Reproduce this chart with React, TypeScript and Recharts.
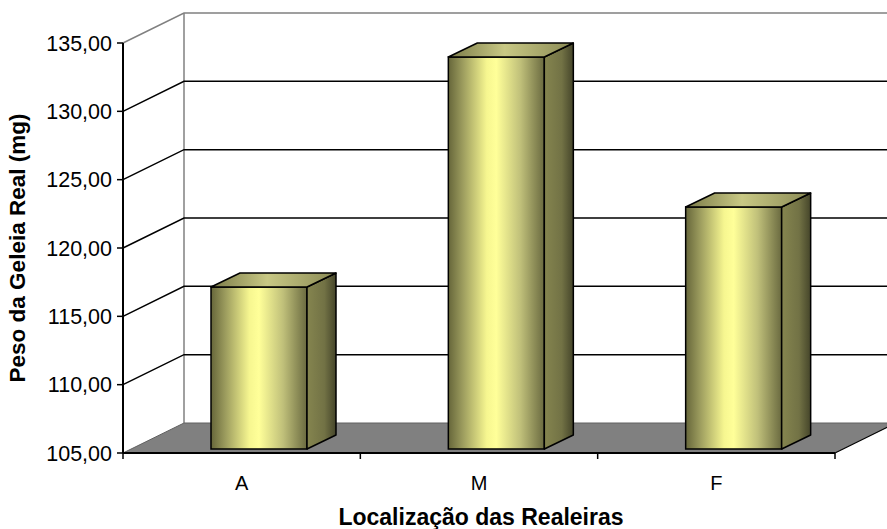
import { Bar, BarChart, CartesianGrid, XAxis, YAxis } from 'recharts';

const categories = ['A', 'M', 'F'];
const pesoGeleia = [116.85, 133.68, 122.71];
const yTicks = [105, 110, 115, 120, 125, 130, 135];

const data = categories.map((loc, i) => ({ loc, peso: pesoGeleia[i] }));

const FONT = 'Arial, "Liberation Sans", sans-serif';

// oblique offsets of the 3-D box
const WALL_DX = 61;
const WALL_DY = -30;
const BAR_DX = 29;
const BAR_DY = -14;
const BAR_SHIFT_X = 17;
const BAR_SHIFT_Y = -4;

const fmt = (v: number) => v.toFixed(2).replace('.', ',');

function GridLine(props: any) {
  const { x1, x2, y1, y, height, index } = props;
  const bottom = y != null && height != null ? y + height : undefined;
  const isFloor = bottom != null ? Math.abs(y1 - bottom) < 0.5 : index === 0;
  const isTop = y != null ? Math.abs(y1 - y) < 0.5 : index === yTicks.length - 1;
  const bx = x1 + WALL_DX;
  const by = y1 + WALL_DY;
  const farX = x2 + WALL_DX + 20;

  if (isFloor) {
    const wallTop = (y ?? y1) + WALL_DY;
    return (
      <g key={`grid-${index}`}>
        <polygon
          points={`${x1},${y1} ${bx},${by} ${x2 + WALL_DX},${by} ${x2},${y1}`}
          fill="#808080"
          stroke="none"
        />
        <line x1={bx} y1={wallTop} x2={bx} y2={by} stroke="#808080" strokeWidth={1.5} />
        <line x1={x1} y1={y1} x2={bx} y2={by} stroke="#606060" strokeWidth={1} />
        <line x1={bx} y1={by} x2={farX} y2={by} stroke="#606060" strokeWidth={1} />
        <line x1={x2} y1={y1} x2={x2 + WALL_DX} y2={by} stroke="#000" strokeWidth={1.2} />
      </g>
    );
  }

  const color = isTop ? '#808080' : '#000';
  return (
    <g key={`grid-${index}`}>
      <polyline
        points={`${x1},${y1} ${bx},${by} ${farX},${by}`}
        fill="none"
        stroke={color}
        strokeWidth={1.5}
      />
    </g>
  );
}

function Box3D(props: any) {
  const { x, y, width, height } = props;
  const fx = x + BAR_SHIFT_X;
  const top = y + BAR_SHIFT_Y;
  const bottom = y + height + BAR_SHIFT_Y;
  const rx = fx + width;
  return (
    <g>
      <rect x={fx} y={top} width={width} height={bottom - top} fill="url(#frontFace)" stroke="#000" strokeWidth={1.5} />
      <polygon
        points={`${rx},${top} ${rx + BAR_DX},${top + BAR_DY} ${rx + BAR_DX},${bottom + BAR_DY} ${rx},${bottom}`}
        fill="url(#sideFace)"
        stroke="#000"
        strokeWidth={1.5}
        strokeLinejoin="round"
      />
      <polygon
        points={`${fx},${top} ${fx + BAR_DX},${top + BAR_DY} ${rx + BAR_DX},${top + BAR_DY} ${rx},${top}`}
        fill="url(#topFace)"
        stroke="#000"
        strokeWidth={1.5}
        strokeLinejoin="round"
      />
    </g>
  );
}

function CategoryTick(props: any) {
  const { x, y, payload, index, width } = props;
  const band = width / categories.length;
  const marks = [x - band / 2];
  if (index === categories.length - 1) marks.push(x + band / 2);
  return (
    <g>
      {marks.map((mx, i) => (
        <line key={i} x1={mx} y1={y} x2={mx} y2={y + 6} stroke="#000" strokeWidth={1.5} />
      ))}
      <text x={x} y={y + 23} dy="0.71em" textAnchor="middle" fontSize={20} fontFamily={FONT} fill="#000">
        {payload.value}
      </text>
    </g>
  );
}

export default function App() {
  return (
    <div style={{ position: 'absolute', left: 0, top: 0, background: '#fff' }}>
      <BarChart
        width={887}
        height={529}
        data={data}
        margin={{ top: 43, right: 52, bottom: 0, left: 0 }}
        barSize={96}
      >
        <defs>
          <linearGradient id="frontFace" x1="0" y1="0" x2="1" y2="0">
            <stop offset="0%" stopColor="#66663a" />
            <stop offset="15%" stopColor="#9c9c5e" />
            <stop offset="40%" stopColor="#f6f690" />
            <stop offset="50%" stopColor="#ffff99" />
            <stop offset="75%" stopColor="#c0c07a" />
            <stop offset="100%" stopColor="#6a6a40" />
          </linearGradient>
          <linearGradient id="sideFace" x1="0" y1="0" x2="1" y2="0">
            <stop offset="0%" stopColor="#85854f" />
            <stop offset="60%" stopColor="#727245" />
            <stop offset="100%" stopColor="#45452a" />
          </linearGradient>
          <linearGradient id="topFace" x1="0" y1="0" x2="1" y2="0">
            <stop offset="0%" stopColor="#7a7a48" />
            <stop offset="45%" stopColor="#c8c884" />
            <stop offset="100%" stopColor="#8a8a55" />
          </linearGradient>
        </defs>
        <CartesianGrid vertical={false} horizontal={GridLine as any} />
        <XAxis
          dataKey="loc"
          height={76}
          tickLine={false}
          tickSize={0}
          tickMargin={0}
          axisLine={{ stroke: '#000', strokeWidth: 2 }}
          tick={<CategoryTick />}
          interval={0}
          label={{
            content: ({ viewBox }: any) => (
              <text
                x={viewBox.x + viewBox.width / 2 + 2}
                y={viewBox.y + 64}
                textAnchor="middle"
                dominantBaseline="central"
                fontSize={23}
                fontWeight="bold"
                fontFamily={FONT}
                fill="#000"
              >
                Localização das Realeiras
              </text>
            ),
          }}
        />
        <YAxis
          width={123}
          domain={[105, 135]}
          ticks={yTicks}
          interval={0}
          tickFormatter={fmt}
          tickSize={6}
          tickMargin={5}
          tickLine={{ stroke: '#000', strokeWidth: 1.5 }}
          axisLine={{ stroke: '#000', strokeWidth: 2 }}
          tick={{ fontSize: 21.5, fontFamily: FONT, fill: '#000' }}
          label={{
            content: ({ viewBox }: any) => {
              const cx = viewBox.x + 17;
              const cy = viewBox.y + viewBox.height / 2;
              return (
                <text
                  x={cx}
                  y={cy}
                  transform={`rotate(-90 ${cx} ${cy})`}
                  textAnchor="middle"
                  dominantBaseline="central"
                  fontSize={22.5}
                  fontWeight="bold"
                  fontFamily={FONT}
                  fill="#000"
                >
                  Peso da Geleia Real (mg)
                </text>
              );
            },
          }}
        />
        <Bar dataKey="peso" shape={<Box3D />} isAnimationActive={false} />
      </BarChart>
    </div>
  );
}
